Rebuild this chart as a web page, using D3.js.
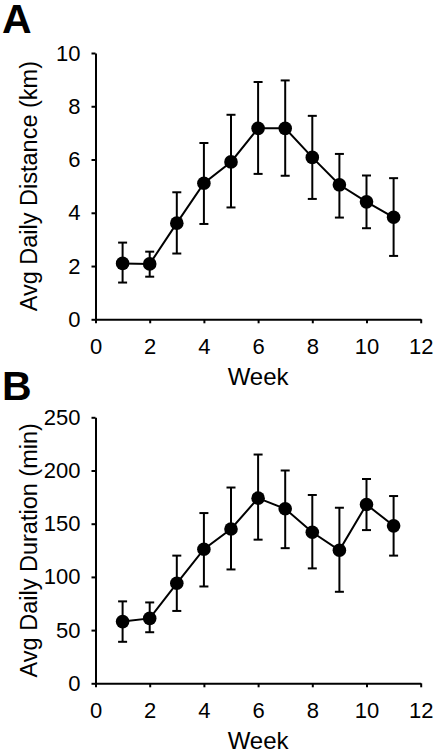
<!DOCTYPE html>
<html>
<head>
<meta charset="utf-8">
<script src="https://cdn.jsdelivr.net/npm/d3@7"></script>
<style>
  html, body { margin: 0; padding: 0; background: #fff; }
  svg { display: block; font-family: Arial, "Liberation Sans", sans-serif; }
</style>
</head>
<body>
<svg id="chart" width="436" height="755"></svg>
<script>
// ---- data ----
const weeks = [1, 2, 3, 4, 5, 6, 7, 8, 9, 10, 11];
const distMean = [2.10, 2.08, 3.61, 5.11, 5.91, 7.17, 7.17, 6.08, 5.05, 4.41, 3.83];
const distUpper = [2.88, 2.54, 4.77, 6.62, 7.68, 8.91, 8.97, 7.64, 6.21, 5.40, 5.30];
const distLower = [1.38, 1.60, 2.47, 3.58, 4.20, 5.46, 5.39, 4.52, 3.82, 3.42, 2.38];
const durMean = [58, 61, 94, 126, 145, 174, 164, 142, 125, 168, 148];
const durUpper = [77, 76, 120, 160, 184, 215, 200, 177, 165, 192, 176];
const durLower = [39, 48, 68, 91, 107, 135, 127, 108, 86, 144, 120];
const xTicks = [0, 2, 4, 6, 8, 10, 12];
const distTicks = [0, 2, 4, 6, 8, 10];
const durTicks = [0, 50, 100, 150, 200, 250];

const svg = d3.select("#chart");

function panel(cfg) {
  const g = svg.append("g");
  const x = d3.scaleLinear().domain([0, 12]).range([95.5, 420.7]);
  const y = d3.scaleLinear().domain(cfg.yDomain).range([cfg.y0, cfg.y1]);

  const xAxis = d3.axisBottom(x).tickValues(xTicks).tickSize(4).tickSizeOuter(0).tickPadding(15);
  const yAxis = d3.axisLeft(y).tickValues(cfg.yTicks).tickSize(4).tickSizeOuter(0).tickPadding(11);

  const gx = g.append("g").attr("transform", `translate(0,${cfg.y0})`).call(xAxis);
  const gy = g.append("g").attr("transform", `translate(${x(0)},0)`).call(yAxis);
  [gx, gy].forEach(a => {
    a.select(".domain").attr("stroke", "#000").attr("stroke-width", 2);
    a.selectAll(".tick line").attr("stroke", "#000").attr("stroke-width", 2);
    a.selectAll(".tick text").attr("fill", "#000").style("font-size", "22px")
      .style("font-family", "Arial, 'Liberation Sans', sans-serif");
  });

  const data = weeks.map((w, i) => ({ w, m: cfg.mean[i], hi: cfg.upper[i], lo: cfg.lower[i] }));

  // error bars
  const eb = g.append("g").attr("stroke", "#000").attr("stroke-width", 2);
  eb.selectAll("line.v").data(data).join("line").attr("class", "v")
    .attr("x1", d => x(d.w)).attr("x2", d => x(d.w))
    .attr("y1", d => y(d.hi)).attr("y2", d => y(d.lo));
  eb.selectAll("line.t").data(data).join("line").attr("class", "t")
    .attr("x1", d => x(d.w) - 4.5).attr("x2", d => x(d.w) + 4.5)
    .attr("y1", d => y(d.hi)).attr("y2", d => y(d.hi));
  eb.selectAll("line.b").data(data).join("line").attr("class", "b")
    .attr("x1", d => x(d.w) - 4.5).attr("x2", d => x(d.w) + 4.5)
    .attr("y1", d => y(d.lo)).attr("y2", d => y(d.lo));

  // line
  g.append("path").datum(data)
    .attr("fill", "none").attr("stroke", "#000").attr("stroke-width", 2)
    .attr("d", d3.line().x(d => x(d.w)).y(d => y(d.m)));

  // markers
  g.selectAll("circle").data(data).join("circle")
    .attr("cx", d => x(d.w)).attr("cy", d => y(d.m)).attr("r", 6.8).attr("fill", "#000");

  // axis titles
  g.append("text").attr("x", (x(0) + x(12)) / 2).attr("y", cfg.y0 + 66)
    .attr("text-anchor", "middle").style("font-size", "24px").text("Week");
  g.append("text")
    .attr("transform", `translate(37,${(cfg.y0 + cfg.y1) / 2}) rotate(-90)`)
    .attr("text-anchor", "middle").style("font-size", "23.5px").text(cfg.yLabel);

  // panel letter
  g.append("text").attr("x", 2).attr("y", cfg.letterY)
    .style("font-size", "41px").style("font-weight", "bold").text(cfg.letter);
}

panel({ yDomain: [0, 10], y0: 319.3, y1: 53, yTicks: distTicks,
  mean: distMean, upper: distUpper, lower: distLower,
  yLabel: "Avg Daily Distance (km)", letter: "A", letterY: 33 });

panel({ yDomain: [0, 250], y0: 683.3, y1: 417.3, yTicks: durTicks,
  mean: durMean, upper: durUpper, lower: durLower,
  yLabel: "Avg Daily Duration (min)", letter: "B", letterY: 400 });
</script>
</body>
</html>
